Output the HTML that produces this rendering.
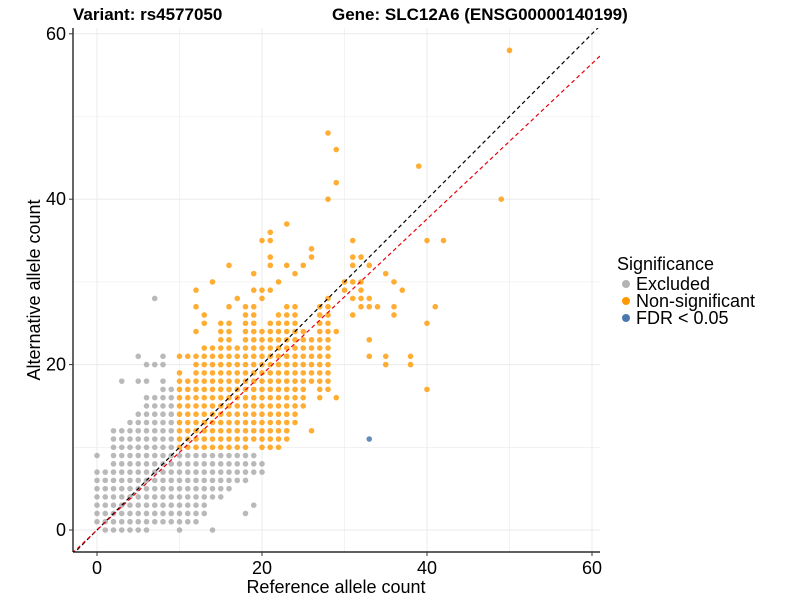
<!DOCTYPE html>
<html><head><meta charset="utf-8"><style>
body{margin:0;background:#fff;}
svg{display:block;font-family:"Liberation Sans",Arial,sans-serif;}
</style></head><body>
<svg id="chart" width="800" height="600">
<defs><clipPath id="plotclip"><rect x="73" y="28" width="527" height="524"/></clipPath></defs>
<g id="grid"></g>
<g id="pts"></g>
<g id="lines" clip-path="url(#plotclip)"></g>
<line x1="73" y1="28" x2="73" y2="552" stroke="#000" stroke-width="1.2"/>
<line x1="73" y1="552" x2="600" y2="552" stroke="#000" stroke-width="1.2"/>
<g id="ticks"></g>
<text x="73" y="20" font-size="17" font-weight="bold">Variant: rs4577050</text>
<text x="332" y="20" font-size="17" font-weight="bold">Gene: SLC12A6 (ENSG00000140199)</text>
<text x="336" y="593" font-size="18" text-anchor="middle">Reference allele count</text>
<text transform="translate(40,290) rotate(-90)" font-size="18" text-anchor="middle">Alternative allele count</text>
<g>
<text x="617" y="270" font-size="18">Significance</text>
<circle cx="626" cy="284" r="4" fill="#b3b3b3"/>
<text x="636" y="290" font-size="18">Excluded</text>
<circle cx="626" cy="301" r="4" fill="#ff9900"/>
<text x="636" y="307" font-size="18">Non-significant</text>
<circle cx="626" cy="318" r="4" fill="#4a79b0"/>
<text x="636" y="324" font-size="18">FDR &lt; 0.05</text>
</g>
</svg>
<script>
// column ranges: [x, yMin, yMax]
const grayCols=[[0,1,7],[1,0,7],[2,0,12],[3,0,12],[4,0,13],[5,0,14],[6,0,16],[7,1,16],[8,1,17],[9,1,17],[10,0,9],[11,1,9],[12,2,9],[13,3,9],[14,4,9],[15,4,9],[16,5,9],[17,6,9],[18,6,9],[19,7,9],[20,7,8]];
const grayExtra=[[0,9],[3,18],[5,21],[5,18],[6,18],[6,20],[7,28],[7,20],[8,21],[8,20],[8,18],[18,2],[14,0],[13,2],[12,1],[19,3]];
const orangeCols=[[10,10,19],[11,10,18],[12,10,21],[13,10,22],[14,10,22],[15,10,25],[16,10,25],[17,10,22],[18,10,27],[19,11,27],[20,10,24],[21,10,25],[22,10,26],[23,11,27],[24,13,27],[25,15,24],[26,18,23],[27,16,27],[28,17,28]];
const orangeExtra=[[10,21],[11,21],[12,29],[12,27],[12,24],[13,26],[13,25],[14,30],[16,32],[16,27],[17,28],[19,31],[19,29],[20,35],[20,29],[20,28],[21,36],[21,35],[21,33],[21,32],[21,29],[22,30],[23,37],[23,32],[24,31],[25,32],[26,34],[26,33],[26,12],[28,48],[28,40],[29,46],[29,42],[29,24],[29,16],[30,30],[30,29],[31,35],[31,33],[31,32],[31,30],[31,28],[31,26],[32,33],[32,30],[32,29],[32,28],[32,27],[33,32],[33,28],[33,27],[33,23],[33,21],[34,27],[35,31],[35,21],[35,20],[36,30],[36,27],[36,26],[37,29],[38,21],[38,20],[40,35],[40,25],[40,17],[41,27],[42,35],[39,44],[49,40],[50,58]];
const fdrPts=[[33,11]];
const xTicks=[0,20,40,60];
const yTicks=[0,20,40,60];
const slopeRef=1, slopeFit=0.94, interceptFit=0;
const xs=v=>97+v*8.25, ys=v=>530-v*8.27;
const NS="http://www.w3.org/2000/svg";
function mk(tag,attrs,parent){const e=document.createElementNS(NS,tag);for(const k in attrs)e.setAttribute(k,attrs[k]);parent.appendChild(e);return e;}
const grid=document.getElementById('grid');
for(let v=-0;v<=60;v+=10){
 const gx=mk('line',{x1:xs(v),x2:xs(v),y1:28,y2:552,stroke:'#ebebeb','stroke-width':v%20?0.6:1},grid);
 
 
 const gy=mk('line',{x1:73,x2:600,y1:ys(v),y2:ys(v),stroke:'#ebebeb','stroke-width':v%20?0.6:1},grid);
 
 
}
const pts=document.getElementById('pts');
function dot(p,fill,op,name){const c=mk('circle',{cx:xs(p[0]),cy:ys(p[1]),r:2.8,fill:fill,'fill-opacity':op},pts);
 
 }
grayCols.forEach(c=>{for(let y=c[1];y<=c[2];y++)dot([c[0],y],'#a8a8a8',0.8,'point-excluded');});
grayExtra.forEach(p=>dot(p,'#a8a8a8',0.8,'point-excluded'));
orangeCols.forEach(c=>{for(let y=c[1];y<=c[2];y++)dot([c[0],y],'#ff9900',0.8,'point-nonsignificant');});
orangeExtra.forEach(p=>dot(p,'#ff9900',0.8,'point-nonsignificant'));
fdrPts.forEach(p=>dot(p,'#4a79b0',0.85,'point-fdr'));
const lines=document.getElementById('lines');
const l1=mk('line',{x1:xs(-3),y1:ys(-3*slopeRef),x2:xs(63),y2:ys(63*slopeRef),stroke:'#000','stroke-dasharray':'4,3','stroke-width':1.2},lines);


const l2=mk('line',{x1:xs(-3),y1:ys(-3*slopeFit+interceptFit),x2:xs(63),y2:ys(63*slopeFit+interceptFit),stroke:'#e8000b','stroke-dasharray':'4,3','stroke-width':1.2},lines);


const ticks=document.getElementById('ticks');
xTicks.forEach(v=>{const t=mk('text',{x:xs(v),y:574,'font-size':18,'text-anchor':'middle'},ticks);t.textContent=v;
 
 
 mk('line',{x1:xs(v),x2:xs(v),y1:552,y2:556,stroke:'#333'},ticks);});
yTicks.forEach(v=>{const t=mk('text',{x:66,y:ys(v)+6,'font-size':18,'text-anchor':'end'},ticks);t.textContent=v;
 
 
 mk('line',{x1:69,x2:73,y1:ys(v),y2:ys(v),stroke:'#333'},ticks);});
</script>
</body></html>
